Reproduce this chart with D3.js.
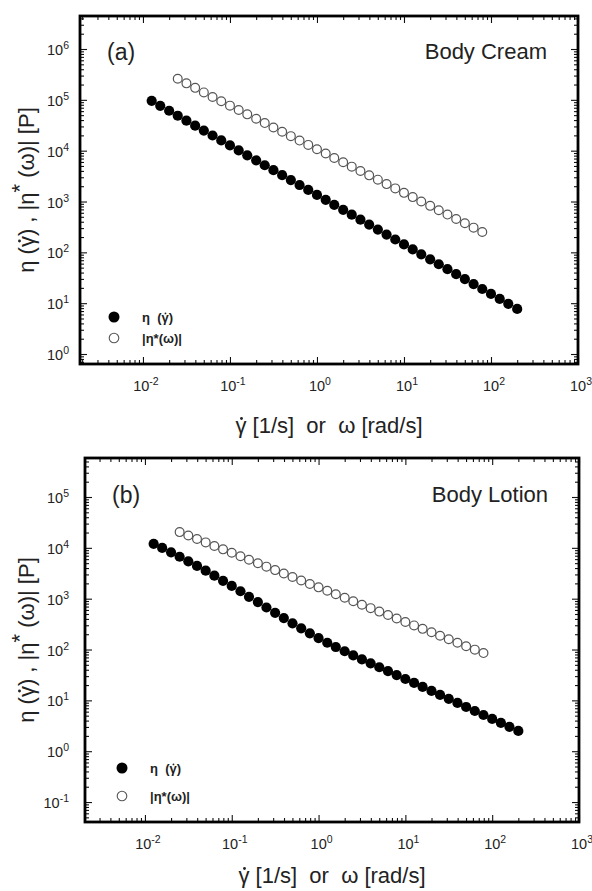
<!DOCTYPE html>
<html>
  <head>
    <title>Viscosity curves</title>
    <script src="https://d3js.org/d3.v7.min.js"></script>
    <style>
      body { margin: 0; background: #fff; }
      text { font-family: "Liberation Sans", Arial, sans-serif; fill: #222; white-space: pre; }
    </style>
  </head>
  <body>
    <svg width="592" height="891"></svg>
    <script>
      // shear rate [1/s] for steady-shear data, and frequency [rad/s] for oscillatory data
      const shearRate = [0.0126, 0.0158, 0.02, 0.0251, 0.0316, 0.0398, 0.0501, 0.0631, 0.0794,
        0.1, 0.126, 0.158, 0.2, 0.251, 0.316, 0.398, 0.501, 0.631, 0.794,
        1, 1.26, 1.58, 2, 2.51, 3.16, 3.98, 5.01, 6.31, 7.94,
        10, 12.6, 15.8, 20, 25.1, 31.6, 39.8, 50.1, 63.1, 79.4,
        100, 126, 158, 200];
      const omega = [0.0251, 0.0316, 0.0398, 0.0501, 0.0631, 0.0794,
        0.1, 0.126, 0.158, 0.2, 0.251, 0.316, 0.398, 0.501, 0.631, 0.794,
        1, 1.26, 1.58, 2, 2.51, 3.16, 3.98, 5.01, 6.31, 7.94,
        10, 12.6, 15.8, 20, 25.1, 31.6, 39.8, 50.1, 63.1, 79.4];

      // (a) body cream
      const etaCream = [95500, 76300, 61000, 48700, 38900, 31100, 24900, 19900, 15900,
        12700, 10100, 8110, 6470, 5170, 4130, 3300, 2640, 2110, 1690,
        1350, 1080, 861, 687, 550, 439, 351, 281, 224, 179,
        143, 114, 91.4, 73.0, 58.3, 46.6, 37.2, 29.8, 23.8, 19.0,
        15.2, 12.1, 9.7, 7.7];
      const etaStarCream = [260000, 211000, 172000, 140000, 114000, 93600,
        76900, 63100, 51800, 42500, 34900, 28600, 23500, 19300, 15800, 13000,
        10700, 8770, 7200, 5910, 4850, 3980, 3270, 2690, 2200, 1810,
        1480, 1220, 1000, 821, 674, 553, 454, 373, 306, 251];

      // (b) body lotion
      const etaLotion = [12000, 9950, 8180, 6680, 5430, 4400, 3550, 2840, 2250,
        1780, 1400, 1090, 857, 671, 527, 415, 328, 261, 208,
        168, 136, 112, 92.5, 76.7, 64.0, 53.5, 44.8, 37.5, 31.4,
        26.3, 22.0, 18.4, 15.3, 12.8, 10.7, 8.89, 7.41, 6.18, 5.15,
        4.31, 3.60, 3.01, 2.51];
      const etaStarLotion = [20400, 17500, 14900, 12800, 10900, 9330,
        7980, 6820, 5830, 4990, 4270, 3650, 3120, 2670, 2280, 1950,
        1670, 1430, 1220, 1040, 891, 762, 652, 557, 476, 407,
        348, 298, 255, 218, 186, 159, 136, 116, 99.5, 85.1];

      const xMajor = [0.01, 0.1, 1, 10, 100, 1000];
      const yMajorA = [1, 10, 100, 1000, 1e4, 1e5, 1e6];
      const yMajorB = [0.1, 1, 10, 100, 1000, 1e4, 1e5];

      const svg = d3.select("svg");

      const panels = [
        { tag: "(a)", name: "Body Cream", eta: etaCream, etaStar: etaStarCream,
          left: 80, right: 578, top: 16, bottom: 364,
          xDom: [0.00189, 1000], yDom: [0.636, 4.46e6], yMajor: yMajorA,
          labelPad: 11, yTitleX: 34, xTitleY: 433,
          legX: 114, legY: [317, 338], tagY: 60, nameY: 59 },
        { tag: "(b)", name: "Body Lotion", eta: etaLotion, etaStar: etaStarLotion,
          left: 85, right: 579, top: 458, bottom: 822,
          xDom: [0.00204, 1000], yDom: [0.0405, 5.85e5], yMajor: yMajorB,
          labelPad: 16, yTitleX: 34, xTitleY: 883,
          legX: 122, legY: [768, 796], tagY: 503, nameY: 502 }
      ];

      function isMajor(v) {
        return Math.abs(Math.log10(v) - Math.round(Math.log10(v))) < 1e-6;
      }

      function powerLabel(sel, v) {
        const e = Math.round(Math.log10(v));
        sel.text("10");
        sel.append("tspan").attr("dy", -6).attr("font-size", 10.5).text(e);
      }

      // put a small dot over every γ of a text (same parent, so rotation is shared)
      function dotGammas(t, fs) {
        const node = t.node();
        const str = node.textContent;
        for (let i = 0; i < str.length; i++) {
          if (str[i] !== "γ") continue;
          const box = node.getExtentOfChar(i);
          const base = node.getStartPositionOfChar(i).y;
          d3.select(node.parentNode).append("circle")
            .attr("cx", box.x + box.width * 0.55).attr("cy", base - 0.66 * fs)
            .attr("r", Math.max(0.9, 0.065 * fs)).attr("fill", "#222");
        }
      }

      panels.forEach(p => {
        const x = d3.scaleLog().domain(p.xDom).range([p.left, p.right]);
        const y = d3.scaleLog().domain(p.yDom).range([p.bottom, p.top]);
        const g = svg.append("g");

        const xMinor = x.ticks().filter(v => !isMajor(v));
        const yMinor = y.ticks().filter(v => !isMajor(v));
        const xMaj = xMajor.filter(v => v >= p.xDom[0] && v <= p.xDom[1]);

        const sides = [
          [d3.axisBottom, x, `translate(0,${p.bottom})`, xMaj, xMinor],
          [d3.axisTop, x, `translate(0,${p.top})`, xMaj, xMinor],
          [d3.axisLeft, y, `translate(${p.left},0)`, p.yMajor, yMinor],
          [d3.axisRight, y, `translate(${p.right},0)`, p.yMajor, yMinor]
        ];
        sides.forEach(([ax, sc, tr, maj, min]) => {
          [[min, -4], [maj, -7]].forEach(([vals, size]) => {
            const a = g.append("g").attr("transform", tr)
              .call(ax(sc).tickValues(vals).tickSize(size).tickFormat(""));
            a.select(".domain").remove();
            a.selectAll(".tick line").attr("stroke", "#111").attr("stroke-width", 1.1);
          });
        });

        g.append("rect")
          .attr("x", p.left).attr("y", p.top)
          .attr("width", p.right - p.left).attr("height", p.bottom - p.top)
          .attr("fill", "none").attr("stroke", "#000").attr("stroke-width", 2.8);

        // tick labels
        g.selectAll(".xl").data(xMaj).enter().append("text")
          .attr("x", d => x(d) + 3).attr("y", p.bottom + 27)
          .attr("text-anchor", "middle").attr("font-size", 14.5).attr("fill", "#333")
          .each(function (d) { powerLabel(d3.select(this), d); });
        g.selectAll(".yl").data(p.yMajor).enter().append("text")
          .attr("x", p.left - p.labelPad).attr("y", d => y(d) + 6)
          .attr("text-anchor", "end").attr("font-size", 14.5).attr("fill", "#333")
          .each(function (d) { powerLabel(d3.select(this), d); });

        // data
        g.selectAll(".open").data(p.etaStar).enter().append("circle")
          .attr("cx", (d, i) => x(omega[i])).attr("cy", d => y(d))
          .attr("r", 4.4).attr("fill", "#fff").attr("stroke", "#555").attr("stroke-width", 1.2);
        g.selectAll(".fill").data(p.eta).enter().append("circle")
          .attr("cx", (d, i) => x(shearRate[i])).attr("cy", d => y(d))
          .attr("r", 5.1).attr("fill", "#000");

        // panel labels
        g.append("text").attr("x", p.left + 27).attr("y", p.tagY)
          .attr("font-size", 23).text(p.tag);
        g.append("text").attr("x", p.right - 31).attr("y", p.nameY)
          .attr("text-anchor", "end").attr("font-size", 22).text(p.name);

        // legend
        g.append("circle").attr("cx", p.legX).attr("cy", p.legY[0]).attr("r", 5.5).attr("fill", "#000");
        g.append("circle").attr("cx", p.legX).attr("cy", p.legY[1]).attr("r", 4.8)
          .attr("fill", "#fff").attr("stroke", "#555").attr("stroke-width", 1.1);
        const lg = g.append("g");
        const l1 = lg.append("text").attr("x", p.legX + 28).attr("y", p.legY[0] + 5)
          .attr("font-size", 13).attr("font-weight", "bold").text("η  (γ)");
        dotGammas(l1, 13);
        lg.append("text").attr("x", p.legX + 28).attr("y", p.legY[1] + 5)
          .attr("font-size", 13).attr("font-weight", "bold").text("|η*(ω)|");

        // axis titles
        const ytg = g.append("g")
          .attr("transform", `translate(${p.yTitleX},${(p.top + p.bottom) / 2}) rotate(-90)`);
        const yt = ytg.append("text").attr("text-anchor", "middle").attr("font-size", 22);
        yt.append("tspan").text("η (γ) , |η");
        yt.append("tspan").attr("dy", -7).text("*");
        yt.append("tspan").attr("dy", 7).text(" (ω)| [P]");
        dotGammas(yt, 22);

        const xtg = g.append("g");
        const xt = xtg.append("text")
          .attr("x", (p.left + p.right) / 2).attr("y", p.xTitleY)
          .attr("text-anchor", "middle").attr("font-size", 22)
          .text("γ [1/s]  or  ω [rad/s]");
        dotGammas(xt, 22);
      });
    </script>
  </body>
</html>
